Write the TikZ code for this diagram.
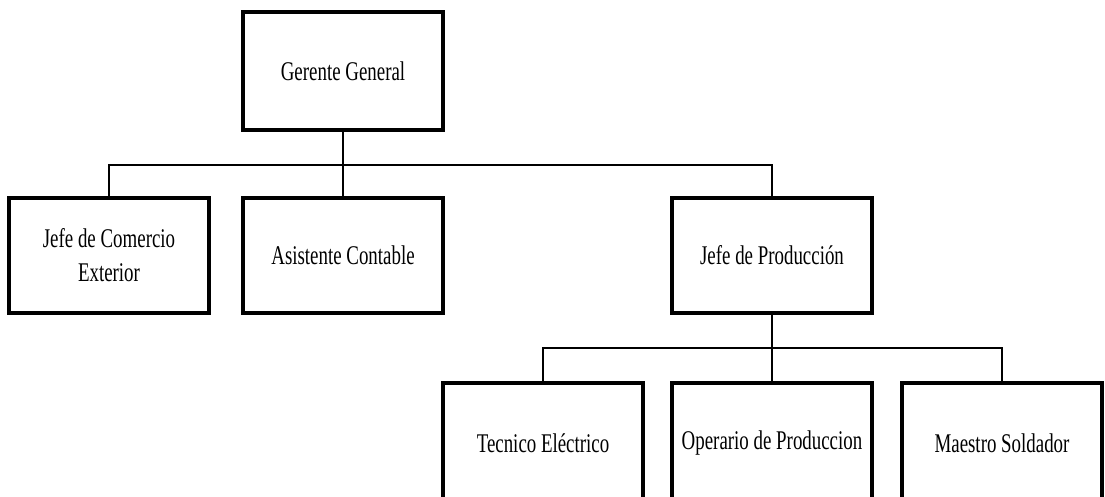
\documentclass[tikz,border=0pt]{standalone}
\usepackage{fontspec}
\setmainfont[FakeStretch=0.70]{Liberation Serif}
\begin{document}
\begin{tikzpicture}[x=1pt,y=-1pt,
  box/.style={draw, line width=3.2pt, minimum width=200pt, align=center, inner sep=0pt,
    font=\fontsize{27}{34}\selectfont},
  link/.style={line width=2pt}]
\useasboundingbox (0,0) rectangle (1105,497);
\fill[white] (0,0) rectangle (1105,497);
\clip (0,0) rectangle (1105,497);
% level 0
\node[box, minimum height=118pt] (gg) at (343,71) {Gerente General};
% level 1
\node[box, minimum height=115pt] (jc) at (109,255.5) {Jefe de Comercio\\Exterior};
\node[box, minimum height=115pt] (ac) at (343,255.5) {Asistente Contable};
\node[box, minimum height=115pt] (jp) at (772,255.5) {Jefe de Producción};
% level 2
\node[box, minimum height=120pt] (te) at (543,443) {Tecnico Eléctrico};
\node[box, minimum height=120pt] (op) at (772,443) {Operario de Produccion};
\node[box, minimum height=120pt] (ms) at (1002,443) {Maestro Soldador};
% buses
\coordinate (b1) at (0,165);
\coordinate (b2) at (0,348);
\draw[link] (gg.south) -- (gg.south |- b1);
\draw[link] (jc.north) |- (jp.north |- b1) -- (jp.north);
\draw[link] (ac.north) -- (ac.north |- b1);
\draw[link] (jp.south) -- (jp.south |- b2);
\draw[link] (te.north) |- (ms.north |- b2) -- (ms.north);
\draw[link] (op.north) -- (op.north |- b2);
\end{tikzpicture}
\end{document}
